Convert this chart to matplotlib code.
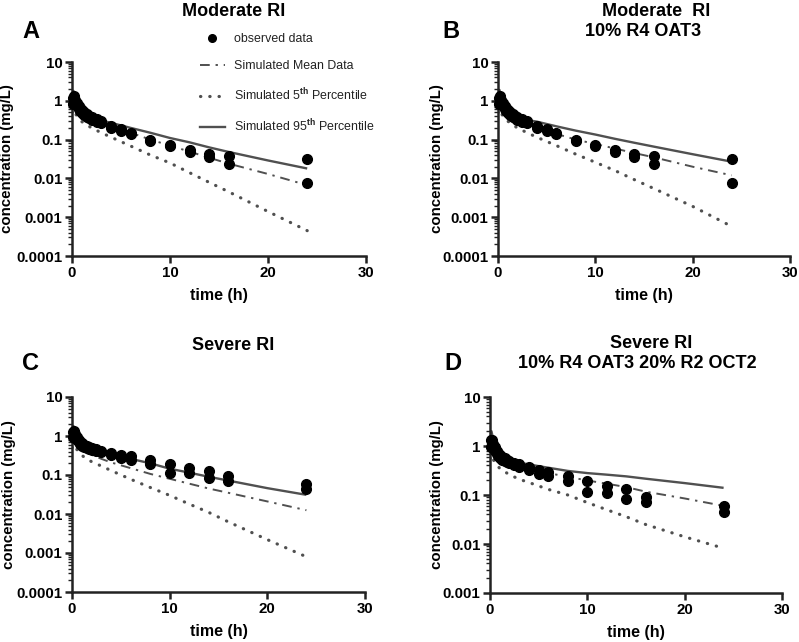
import numpy as np
import matplotlib
matplotlib.use("Agg")
import matplotlib.pyplot as plt
from matplotlib.ticker import LogLocator, FuncFormatter, NullFormatter
from matplotlib.lines import Line2D

plt.rcParams['font.family'] = ['Liberation Sans', 'DejaVu Sans']
plt.rcParams['mathtext.fontset'] = 'custom'
plt.rcParams['mathtext.rm'] = 'Liberation Sans'
plt.rcParams['mathtext.bf'] = 'Liberation Sans:bold'

# observed sampling times (h)
obs_t = [0.083, 0.167, 0.25, 0.33, 0.5, 0.67, 0.83, 1, 1.25, 1.5, 1.75, 2, 2.5, 3,
         4, 5, 6, 8, 10, 12, 14, 16, 24]

# observed concentrations (mg/L), two profiles per group
mod_obs1 = [1.2, 1.3, 1.2, 1.05, 0.9, 0.75, 0.65, 0.58, 0.5, 0.45, 0.41, 0.38, 0.33, 0.3,
            0.22, 0.19, 0.15, 0.1, 0.072, 0.054, 0.043, 0.038, 0.031]
mod_obs2 = [0.85, 0.95, 0.9, 0.85, 0.75, 0.62, 0.55, 0.48, 0.42, 0.38, 0.35, 0.32, 0.28, 0.26,
            0.2, 0.17, 0.14, 0.093, 0.067, 0.047, 0.036, 0.024, 0.0078]
sev_obs1 = [1.3, 1.35, 1.2, 1.1, 0.95, 0.8, 0.72, 0.65, 0.6, 0.56, 0.53, 0.5, 0.46, 0.42,
            0.37, 0.33, 0.3, 0.24, 0.19, 0.155, 0.13, 0.093, 0.06]
sev_obs2 = [0.95, 1.0, 0.95, 0.9, 0.8, 0.7, 0.62, 0.57, 0.53, 0.5, 0.47, 0.45, 0.41, 0.38,
            0.32, 0.27, 0.24, 0.19, 0.115, 0.112, 0.083, 0.072, 0.044]

# simulated time grid (h)
sim_t = [0, 0.15, 0.5, 1, 1.5, 2, 3, 4, 6, 8, 10, 12, 14, 16, 20, 24]

# panel A - moderate RI
a_p95 = [1.0, 1.8, 0.8, 0.5, 0.42, 0.37, 0.31, 0.27, 0.2, 0.15, 0.11, 0.085, 0.063, 0.048, 0.029, 0.018]
a_mean = [0.8, 1.3, 0.6, 0.45, 0.38, 0.33, 0.27, 0.22, 0.15, 0.1, 0.07, 0.049, 0.034, 0.024, 0.013, 0.0067]
a_p5 = [0.5, 0.6, 0.4, 0.29, 0.24, 0.2, 0.15, 0.115, 0.068, 0.04, 0.025, 0.014, 0.0079, 0.0045, 0.0014, 0.00045]

# panel B - moderate RI, 10% R4 OAT3
b_p95 = [1.0, 1.9, 0.85, 0.5, 0.43, 0.38, 0.32, 0.29, 0.22, 0.17, 0.135, 0.105, 0.083, 0.066, 0.042, 0.027]
b_mean = [0.8, 1.3, 0.6, 0.45, 0.38, 0.33, 0.27, 0.21, 0.14, 0.1, 0.077, 0.059, 0.045, 0.035, 0.02, 0.012]
b_p5 = [0.5, 0.6, 0.4, 0.3, 0.24, 0.2, 0.15, 0.115, 0.07, 0.042, 0.026, 0.016, 0.0093, 0.0055, 0.0019, 0.00058]

# panel C - severe RI
c_p95 = [1.0, 1.8, 0.9, 0.6, 0.5, 0.45, 0.38, 0.33, 0.26, 0.2, 0.145, 0.115, 0.09, 0.072, 0.046, 0.031]
c_mean = [0.8, 1.3, 0.6, 0.45, 0.38, 0.33, 0.26, 0.21, 0.15, 0.107, 0.08, 0.06, 0.045, 0.035, 0.021, 0.0125]
c_p5 = [0.5, 0.6, 0.45, 0.32, 0.26, 0.22, 0.17, 0.13, 0.078, 0.048, 0.03, 0.018, 0.011, 0.0063, 0.0022, 0.0008]

# panel D - severe RI, 10% R4 OAT3 20% R2 OCT2
d_p95 = [1.1, 2.0, 0.95, 0.65, 0.56, 0.52, 0.46, 0.42, 0.36, 0.31, 0.28, 0.26, 0.24, 0.215, 0.175, 0.14]
d_mean = [0.9, 1.3, 0.7, 0.55, 0.48, 0.42, 0.37, 0.34, 0.28, 0.235, 0.198, 0.17, 0.145, 0.117, 0.085, 0.06]
d_p5 = [0.55, 0.65, 0.45, 0.35, 0.3, 0.26, 0.21, 0.18, 0.13, 0.1, 0.07, 0.05, 0.036, 0.025, 0.014, 0.0082]

line_col = '#505050'
mean_style = (0, (5, 3, 1.2, 3))
dot_style = (0, (0.1, 2.8))


def draw_panel(ax, obs1, obs2, p95, mean, p5, ymin, ylab_x):
    ax.plot(sim_t, p95, color=line_col, lw=1.7, solid_capstyle='butt')
    ax.plot(sim_t, mean, color=line_col, lw=1.4, linestyle=mean_style)
    ax.plot(sim_t, p5, color=line_col, lw=2.3, linestyle=dot_style, dash_capstyle='round')
    ax.plot(obs_t, obs1, 'o', color='black', ms=7, clip_on=False, zorder=5)
    ax.plot(obs_t, obs2, 'o', color='black', ms=7, clip_on=False, zorder=5)

    ax.set_yscale('log')
    ax.set_ylim(ymin, 10)
    ax.set_xlim(0, 30)
    ax.set_xticks([0, 10, 20, 30])
    ax.yaxis.set_major_locator(LogLocator(base=10, numticks=10))
    ax.yaxis.set_minor_locator(LogLocator(base=10, subs=np.arange(2, 10), numticks=20))
    ax.yaxis.set_major_formatter(FuncFormatter(lambda v, p: '{:g}'.format(v)))
    ax.yaxis.set_minor_formatter(NullFormatter())

    for s in ['top', 'right']:
        ax.spines[s].set_visible(False)
    for s in ['left', 'bottom']:
        ax.spines[s].set_linewidth(1.8)
        ax.spines[s].set_color('#222222')
    ax.tick_params(axis='both', which='major', length=5, width=1.8, labelsize=10.8, pad=2, color='#222222')
    ax.tick_params(axis='y', which='minor', length=3, width=1.0, color='#222222')
    for lab in ax.get_xticklabels() + ax.get_yticklabels():
        lab.set_fontweight('bold')
    ax.set_xlabel('time (h)', fontsize=11.5, fontweight='bold', labelpad=6)
    ax.set_ylabel('concentration (mg/L)', fontsize=10.8, fontweight='bold')
    ax.yaxis.set_label_coords(ylab_x, 0.5)


fig = plt.figure(figsize=(7.99, 6.42), dpi=100)
W, H = 799.0, 642.0

axA = fig.add_axes([72 / W, 1 - 256 / H, 294 / W, 194 / H])
axB = fig.add_axes([498 / W, 1 - 256 / H, 292 / W, 194 / H])
axC = fig.add_axes([72 / W, 1 - 592 / H, 293 / W, 195 / H])
axD = fig.add_axes([490 / W, 1 - 593 / H, 292 / W, 196 / H])

draw_panel(axA, mod_obs1, mod_obs2, a_p95, a_mean, a_p5, 0.0001, -0.196)
draw_panel(axB, mod_obs1, mod_obs2, b_p95, b_mean, b_p5, 0.0001, -0.184)
draw_panel(axC, sev_obs1, sev_obs2, c_p95, c_mean, c_p5, 0.0001, -0.19)
draw_panel(axD, sev_obs1, sev_obs2, d_p95, d_mean, d_p5, 0.001, -0.156)

# titles
tkw = dict(fontsize=13, fontweight='bold', ha='center', va='center')
fig.text(234 / W, 1 - 12 / H, 'Moderate RI', **tkw)
fig.text(656 / W, 1 - 11 / H, 'Moderate  RI', **tkw)
fig.text(643 / W, 1 - 32 / H, '10% R4 OAT3', **tkw)
fig.text(233 / W, 1 - 345 / H, 'Severe RI', **tkw)
fig.text(651 / W, 1 - 343 / H, 'Severe RI', **tkw)
fig.text(637 / W, 1 - 363 / H, '10% R4 OAT3 20% R2 OCT2', **tkw)

# panel letters
lkw = dict(fontsize=17, fontweight='bold', ha='left', va='center')
fig.text(22 / W, 1 - 32 / H, 'A', **lkw)
fig.text(442 / W, 1 - 32 / H, 'B', **lkw)
fig.text(22 / W, 1 - 363 / H, 'C', **lkw)
fig.text(444 / W, 1 - 363 / H, 'D', **lkw)

# legend (panel A)
handles = [
    Line2D([], [], marker='o', color='black', ls='none', ms=5.5),
    Line2D([], [], color=line_col, lw=1.4, ls=mean_style),
    Line2D([], [], color=line_col, lw=2.3, ls=dot_style, dash_capstyle='round'),
    Line2D([], [], color=line_col, lw=1.7),
]
labels = ['observed data', 'Simulated Mean Data',
          r'Simulated 5$^{\mathbf{th}}$ Percentile',
          r'Simulated 95$^{\mathbf{th}}$ Percentile']
leg = axA.legend(handles, labels, loc='upper left', bbox_to_anchor=(200 / W, 1 - 33 / H),
                 bbox_transform=fig.transFigure, frameon=False, fontsize=8.9,
                 handlelength=2.0, handletextpad=0.75, labelspacing=1.2,
                 borderpad=0, borderaxespad=0)
for t in leg.get_texts():
    t.set_color('#222222')

fig.savefig('out.png', dpi=100)
